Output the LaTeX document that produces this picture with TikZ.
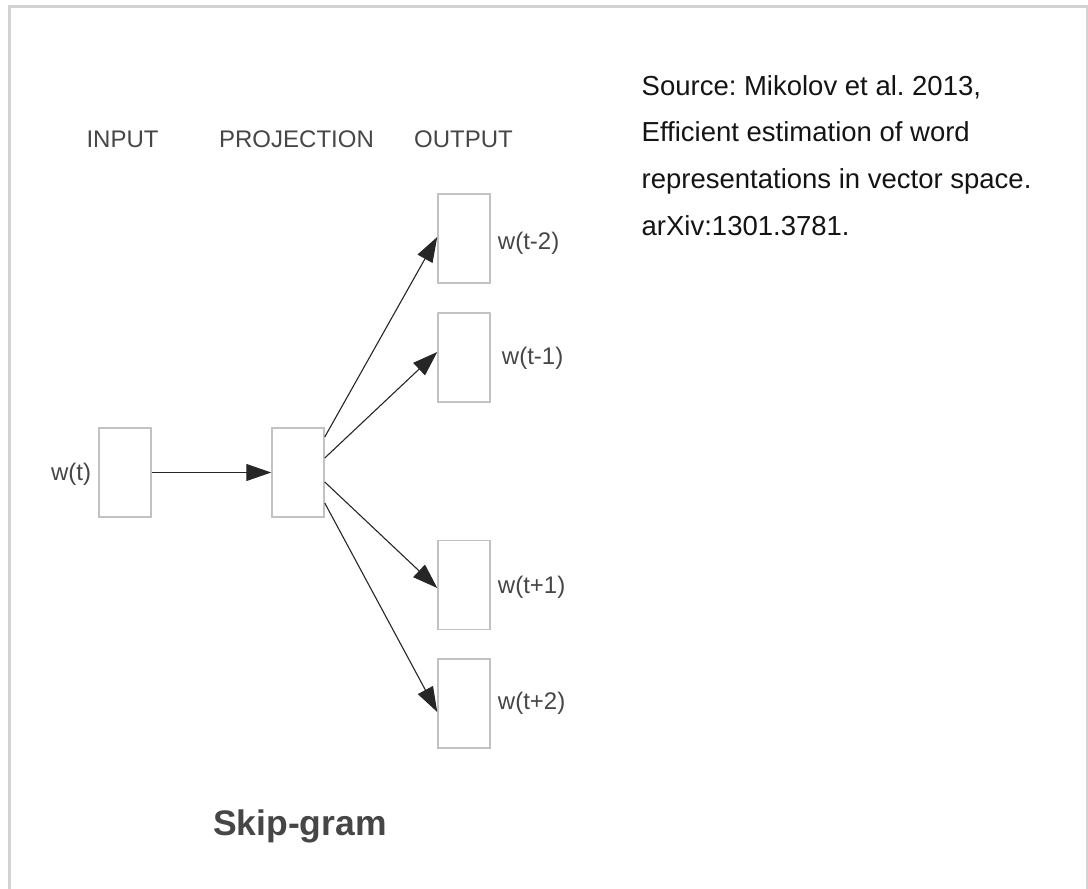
\documentclass[tikz,border=0pt]{standalone}
\usepackage{fontspec}
\setmainfont{Liberation Sans}
\usepackage{tikz}
\usetikzlibrary{positioning, arrows.meta}
\frenchspacing

\definecolor{txtgray}{HTML}{464646}
\definecolor{boxgray}{HTML}{C2C2C2}
\definecolor{framegray}{HTML}{D3D3D3}

\begin{document}
\begin{tikzpicture}[
  x=1pt, y=-1pt,
  box/.style={rectangle,draw=boxgray,line width=1.5pt,minimum width=52pt,minimum height=89pt,inner sep=0pt},
  lbl/.style={inner sep=0pt,text=txtgray,font=\fontsize{24}{28}\selectfont},
  hdr/.style={inner sep=0pt,text=txtgray,font=\fontsize{24}{28}\selectfont},
  arr/.style={draw=black!85,line width=1.1pt,-{Triangle[length=25pt,width=17pt]}}
]
  \useasboundingbox (0,0) rectangle (1088,889);
  % frame, open at the bottom
  \draw[framegray,line width=2.5pt] (9.5,889) -- (9.5,6.5) -- (1087,6.5) -- (1087,889);

  \node[hdr] (hin)   at (122.5,139.5) {INPUT};
  \node[hdr] (hproj) at (296.5,139.5) {PROJECTION};
  \node[hdr] (hout)  at (463.5,139.5) {OUTPUT};

  \node[box] (in)   at (125,472.5) {};
  \node[box] (proj) at (298,472.5) {};
  \node[box] (o1)   at (464,238.5) {};
  \node[box] (o2)   at (464,357.5) {};
  \node[box] (o3)   at (464,585)   {};
  \node[box] (o4)   at (464,703.5) {};

  \node[lbl, left=7pt of in, yshift=-2pt]  (lin) {w(t)};
  \node[lbl, right=7pt of o1, yshift=-5pt] (l1)  {w(t-2)};
  \node[lbl, right=11pt of o2, yshift=-1pt] (l2) {w(t-1)};
  \node[lbl, right=7pt of o3, yshift=-2pt] (l3)  {w(t+1)};
  \node[lbl, right=7pt of o4]              (l4)  {w(t+2)};

  \draw[arr] (in.east) -- (proj.west);
  \foreach \o/\s/\e in {o1/35.5/1.5, o2/14.5/5.5, o3/-9.5/-3, o4/-30.5/-8.5}
    \draw[arr] ([yshift=\s pt]proj.east) -- ([yshift=\e pt]\o.west);

  \node[inner sep=0pt,text=txtgray,font=\bfseries\fontsize{35.5}{40}\selectfont] (title) at (300,826) {Skip-gram};

  \node[anchor=north west,inner sep=0pt,align=left,text=black!92,
        font=\fontsize{27.5}{46.7}\selectfont] (src) at (641.5,75)
    {Source: Mikolov et al. 2013,\\Efficient estimation of word\\representations in vector space.\\arXiv:1301.3781.};
\end{tikzpicture}
\end{document}
